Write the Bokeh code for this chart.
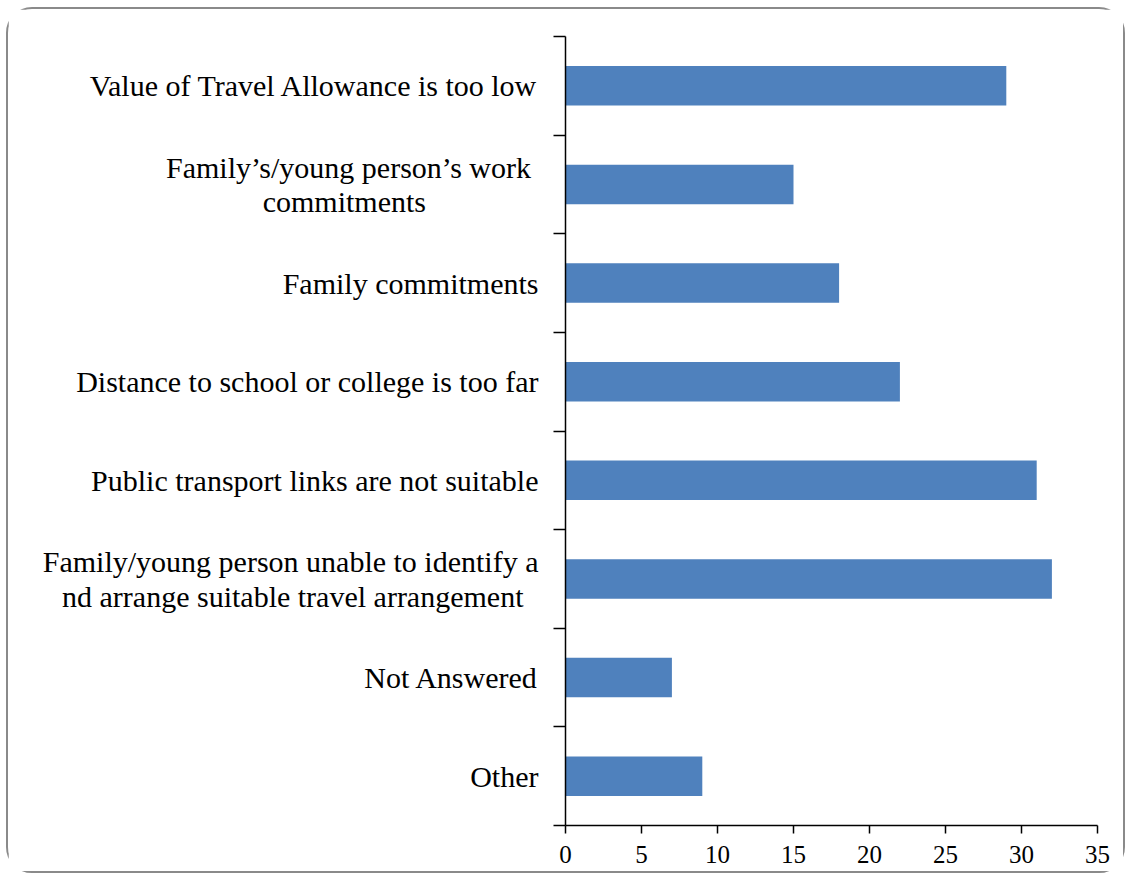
from bokeh.plotting import figure
from bokeh.models import Range1d, FixedTicker, ColumnDataSource
from bokeh.embed import file_html
from bokeh.resources import INLINE

NB = "\u00a0"  # non-breaking space, used to centre the shorter second line

categories = [
    "Value of Travel Allowance is too low",
    "Family\u2019s/young person\u2019s work \ncommitments" + NB * 15,
    "Family commitments",
    "Distance to school or college is too far",
    "Public transport links are not suitable",
    "Family/young person unable to identify a\nnd arrange suitable travel arrangement" + NB * 2,
    "Not Answered",
    "Other",
]
values = [29, 15, 18, 22, 31, 32, 7, 9]
x_ticks = [0, 5, 10, 15, 20, 25, 30, 35]

n = len(categories)
ypos = [n - 0.5 - i for i in range(n)]
bounds = list(range(n + 1))

src = ColumnDataSource(dict(y=ypos, v=values, cat=categories))

p = figure(width=1119, height=866, output_backend="svg", toolbar_location=None,
           x_range=Range1d(0, 35), y_range=Range1d(0, n),
           min_border_left=557, min_border_right=30, min_border_top=27, min_border_bottom=50)
p.styles = {"border": "2px solid #8a8a8a", "border-radius": "26px",
            "margin-left": "6px", "margin-top": "7px"}
p.outline_line_color = None
p.xgrid.visible = False
p.ygrid.visible = False

p.hbar(y="y", right="v", left=0, height=0.4, source=src, fill_color="#4F81BD", line_color=None)

serif = "Liberation Serif"
# x axis
p.xaxis.ticker = FixedTicker(ticks=x_ticks)
p.xaxis.major_tick_out = 8
p.xaxis.major_tick_in = 0
p.xaxis.minor_tick_line_color = None
p.xaxis.axis_line_color = "black"
p.xaxis.axis_line_width = 1.5
p.xaxis.major_tick_line_width = 1.5
p.xaxis.major_label_text_font = serif
p.xaxis.major_label_text_font_size = "25px"
p.xaxis.major_label_text_color = "black"
p.xaxis.major_label_standoff = 12

# y axis: boundary ticks as minor ticks, category labels at centres
p.yaxis.ticker = FixedTicker(ticks=ypos, minor_ticks=bounds)
p.yaxis.major_label_overrides = {y: c for y, c in zip(ypos, categories)}
p.yaxis.major_tick_line_color = None
p.yaxis.major_tick_out = 0
p.yaxis.major_tick_in = 0
p.yaxis.minor_tick_out = 12
p.yaxis.minor_tick_in = 0
p.yaxis.minor_tick_line_width = 1.5
p.yaxis.minor_tick_line_color = "black"
p.yaxis.axis_line_color = "black"
p.yaxis.axis_line_width = 1.5
p.yaxis.major_label_text_font = serif
p.yaxis.major_label_text_font_size = "30px"
p.yaxis.major_label_text_color = "black"
p.yaxis.major_label_text_line_height = 1.05
p.yaxis.major_label_standoff = 15

open("out.html", "w").write(file_html(p, INLINE))
